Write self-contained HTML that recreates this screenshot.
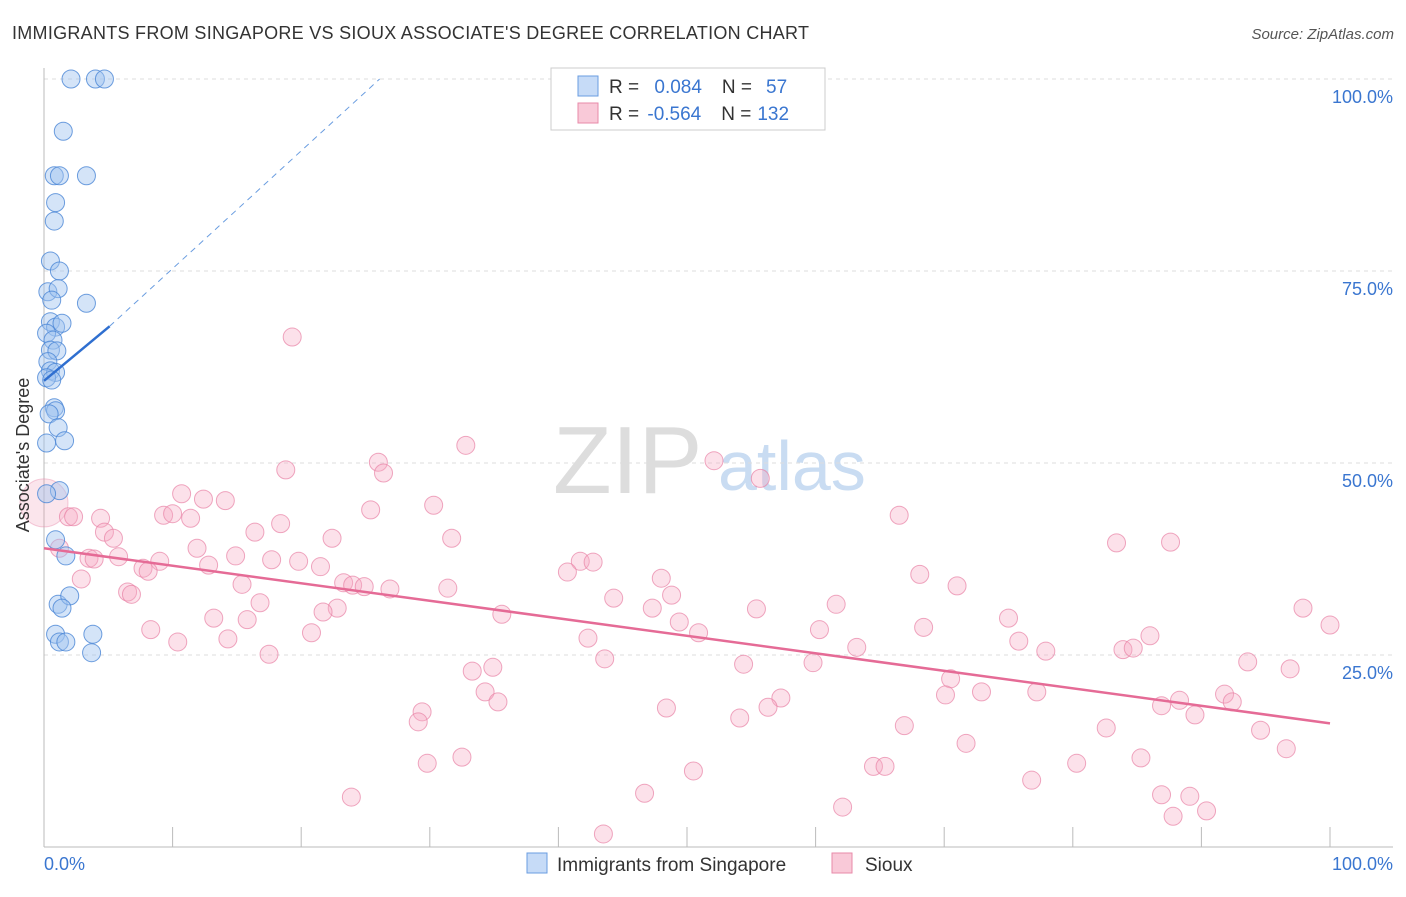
<!DOCTYPE html>
<html><head><meta charset="utf-8"><style>
body{margin:0;background:#fff;font-family:"Liberation Sans",sans-serif}
svg text{font-family:"Liberation Sans",sans-serif}
</style></head><body>
<svg id="c" width="1406" height="892" xmlns="http://www.w3.org/2000/svg">
<text x="12" y="39" font-size="18" fill="#333" textLength="797" lengthAdjust="spacing">IMMIGRANTS FROM SINGAPORE VS SIOUX ASSOCIATE'S DEGREE CORRELATION CHART</text>
<text x="1394" y="39" font-size="15" fill="#555" font-style="italic" text-anchor="end">Source: ZipAtlas.com</text>
<g><text x="553" y="493" font-size="96" fill="#ddd" font-family="Liberation Serif">ZIP</text><text x="718" y="490" font-size="70" fill="#c9dcf2">atlas</text></g>
<g id="grid"></g><g id="axes"></g><g id="pts"></g><g id="lines"></g>
<text x="29" y="455" font-size="18" fill="#333" text-anchor="middle" transform="rotate(-90 29 455)">Associate's Degree</text>
<g>
<rect x="551" y="68" width="274" height="62" fill="#fff" stroke="#ccc"/>
<rect x="578" y="76" width="20" height="20" fill="#c6dbf7" stroke="#6a9de0"/>
<rect x="578" y="103" width="20" height="20" fill="#f9c9d8" stroke="#e88aa9"/>
<text x="609" y="93" font-size="19" fill="#333">R = <tspan fill="#3a76d0" dx="10">0.084</tspan><tspan fill="#333" dx="20">N =</tspan><tspan fill="#3a76d0" dx="14">57</tspan></text>
<text x="609" y="120" font-size="19" fill="#333">R = <tspan fill="#3a76d0" dx="3">-0.564</tspan><tspan fill="#333" dx="20">N =</tspan><tspan fill="#3a76d0" dx="6">132</tspan></text>
</g>
<g>
<rect x="527" y="853" width="20" height="20" fill="#c6dbf7" stroke="#6a9de0"/>
<text x="557" y="871" font-size="19" fill="#333">Immigrants from Singapore</text>
<rect x="832" y="853" width="20" height="20" fill="#f9c9d8" stroke="#e88aa9"/>
<text x="865" y="871" font-size="19" fill="#333">Sioux</text>
</g>
</svg>
<script>
const yTicks=[100,75,50,25];
const yTickLabels=["100.0%","75.0%","50.0%","25.0%"];
const xLabels=["0.0%","100.0%"];
const blueX=[2.1,4.0,4.7,1.5,0.8,1.2,3.3,0.9,0.8,0.5,1.2,0.3,1.1,0.6,3.3,0.5,0.9,1.4,0.2,0.7,0.5,1.0,0.3,0.5,0.9,0.2,0.6,0.8,0.9,0.4,1.1,1.6,0.2,1.2,0.2,0.9,1.7,1.1,2.0,1.4,0.9,3.8,1.2,1.7,3.7];
const blueY=[100,100,100,93.2,87.4,87.4,87.4,83.9,81.5,76.3,75.0,72.3,72.7,71.2,70.8,68.4,67.7,68.2,66.9,66.0,64.7,64.6,63.2,62.0,61.8,61.1,60.8,57.2,56.8,56.4,54.6,52.9,52.6,46.4,46.0,40.0,37.9,31.6,32.7,31.1,27.7,27.7,26.7,26.7,25.3];
const pinkX=[19.3,32.8,26.0,52.1,18.8,26.4,55.7,10.7,12.4,14.1,30.3,25.4,9.3,10.0,11.4,1.9,2.3,4.4,66.5,18.4,16.4,4.7,5.4,22.4,31.7,83.4,87.6,1.2,11.9,14.9,5.8,3.5,3.9,9.0,17.7,19.8,21.5,41.7,42.7,7.7,8.1,12.8,40.7,68.1,2.9,15.4,23.3,24.0,24.9,26.9,31.4,48.0,71.0,6.5,6.8,48.8,16.8,44.3,61.6,22.8,21.7,35.6,47.3,55.4,97.9,13.2,15.8,75.0,49.4,60.3,68.4,100,8.3,20.8,50.9,10.4,14.3,42.3,75.8,86.0,83.9,84.7,77.9,63.2,17.5,43.6,54.4,59.8,93.6,96.9,33.3,34.9,70.5,91.8,92.4,34.3,35.3,70.1,72.9,77.2,57.3,56.3,48.4,88.3,86.9,89.5,54.1,66.9,29.4,29.1,82.6,94.6,71.7,96.6,29.8,32.5,80.3,85.3,50.5,64.5,65.4,76.8,46.7,23.9,62.1,86.9,89.1,90.4,87.8,43.5];
const pinkY=[66.4,52.3,50.1,50.3,49.1,48.7,48.0,46.0,45.3,45.1,44.5,43.9,43.2,43.4,42.8,43.0,43.0,42.8,43.2,42.1,41.0,41.0,40.2,40.2,40.2,39.6,39.7,38.9,38.9,37.9,37.8,37.6,37.5,37.2,37.4,37.2,36.5,37.2,37.1,36.3,35.9,36.7,35.8,35.5,34.9,34.2,34.4,34.1,33.9,33.6,33.7,35.0,34.0,33.2,32.9,32.8,31.8,32.4,31.6,31.1,30.6,30.3,31.1,31.0,31.1,29.8,29.6,29.8,29.3,28.3,28.6,28.9,28.3,27.9,27.9,26.7,27.1,27.2,26.8,27.5,25.7,25.9,25.5,26.0,25.1,24.5,23.8,24.0,24.1,23.2,22.9,23.4,21.9,19.9,18.9,20.2,18.9,19.8,20.2,20.2,19.4,18.2,18.1,19.1,18.4,17.2,16.8,15.8,17.6,16.3,15.5,15.2,13.5,12.8,10.9,11.7,10.9,11.6,9.9,10.5,10.5,8.7,7.0,6.5,5.2,6.8,6.6,4.7,4.0,1.7];
const blueTrend=[[0,60.7],[5.1,67.8]];
const blueTrendExt=[[5.1,67.8],[26.1,100]];
const pinkTrend=[[0,38.9],[100,16.1]];
const X=v=>44+v*12.86, Y=v=>847-v*7.68;
const NS="http://www.w3.org/2000/svg";
function mk(p,t,a){const e=document.createElementNS(NS,t);for(const k in a)e.setAttribute(k,a[k]);p.appendChild(e);return e;}
const grid=document.getElementById('grid'),axes=document.getElementById('axes'),pts=document.getElementById('pts'),lines=document.getElementById('lines');
yTicks.forEach((t,i)=>{
 const l=mk(grid,'line',{x1:44,x2:1393,y1:Y(t),y2:Y(t),stroke:'#ddd','stroke-dasharray':'4,4'});
 
 
 const tx=mk(grid,'text',{x:1393,y:Y(t)+24,'font-size':18,fill:'#3a76d0','text-anchor':'end'});tx.textContent=yTickLabels[i];
 
 
});
let a=mk(axes,'line',{x1:44,x2:44,y1:68,y2:847,stroke:'#bbb'});


a=mk(axes,'line',{x1:44,x2:1393,y1:847,y2:847,stroke:'#bbb'});


for(let i=1;i<=10;i++){const t=mk(axes,'line',{x1:X(i*10),x2:X(i*10),y1:827,y2:847,stroke:'#bbb'});
 
 }
[[0,'start',44],[100,'end',1393]].forEach((d,i)=>{const t=mk(axes,'text',{x:d[2],y:870,'font-size':18,fill:'#3a76d0','text-anchor':d[1]});t.textContent=xLabels[i];
 
 });
const big=mk(pts,'circle',{cx:X(0),cy:Y(44.8),r:24,fill:'rgba(240,150,180,0.25)',stroke:'rgba(230,130,165,0.4)'});


pinkX.forEach((x,i)=>{const c=mk(pts,'circle',{cx:X(x),cy:Y(pinkY[i]),r:9,fill:'rgba(246,170,196,0.35)',stroke:'rgba(232,130,165,0.7)'});
 
 });
blueX.forEach((x,i)=>{const c=mk(pts,'circle',{cx:X(x),cy:Y(blueY[i]),r:9,fill:'rgba(160,196,240,0.45)',stroke:'rgba(74,134,214,0.8)'});
 
 });
let L=mk(lines,'line',{x1:X(pinkTrend[0][0]),y1:Y(pinkTrend[0][1]),x2:X(pinkTrend[1][0]),y2:Y(pinkTrend[1][1]),stroke:'#e56b96','stroke-width':2.5});


L=mk(lines,'line',{x1:X(blueTrend[0][0]),y1:Y(blueTrend[0][1]),x2:X(blueTrend[1][0]),y2:Y(blueTrend[1][1]),stroke:'#2f6fd0','stroke-width':2.5});


L=mk(lines,'line',{x1:X(blueTrendExt[0][0]),y1:Y(blueTrendExt[0][1]),x2:X(blueTrendExt[1][0]),y2:Y(blueTrendExt[1][1]),stroke:'#6a9de0','stroke-width':1,'stroke-dasharray':'6,5'});


</script>
</body></html>
